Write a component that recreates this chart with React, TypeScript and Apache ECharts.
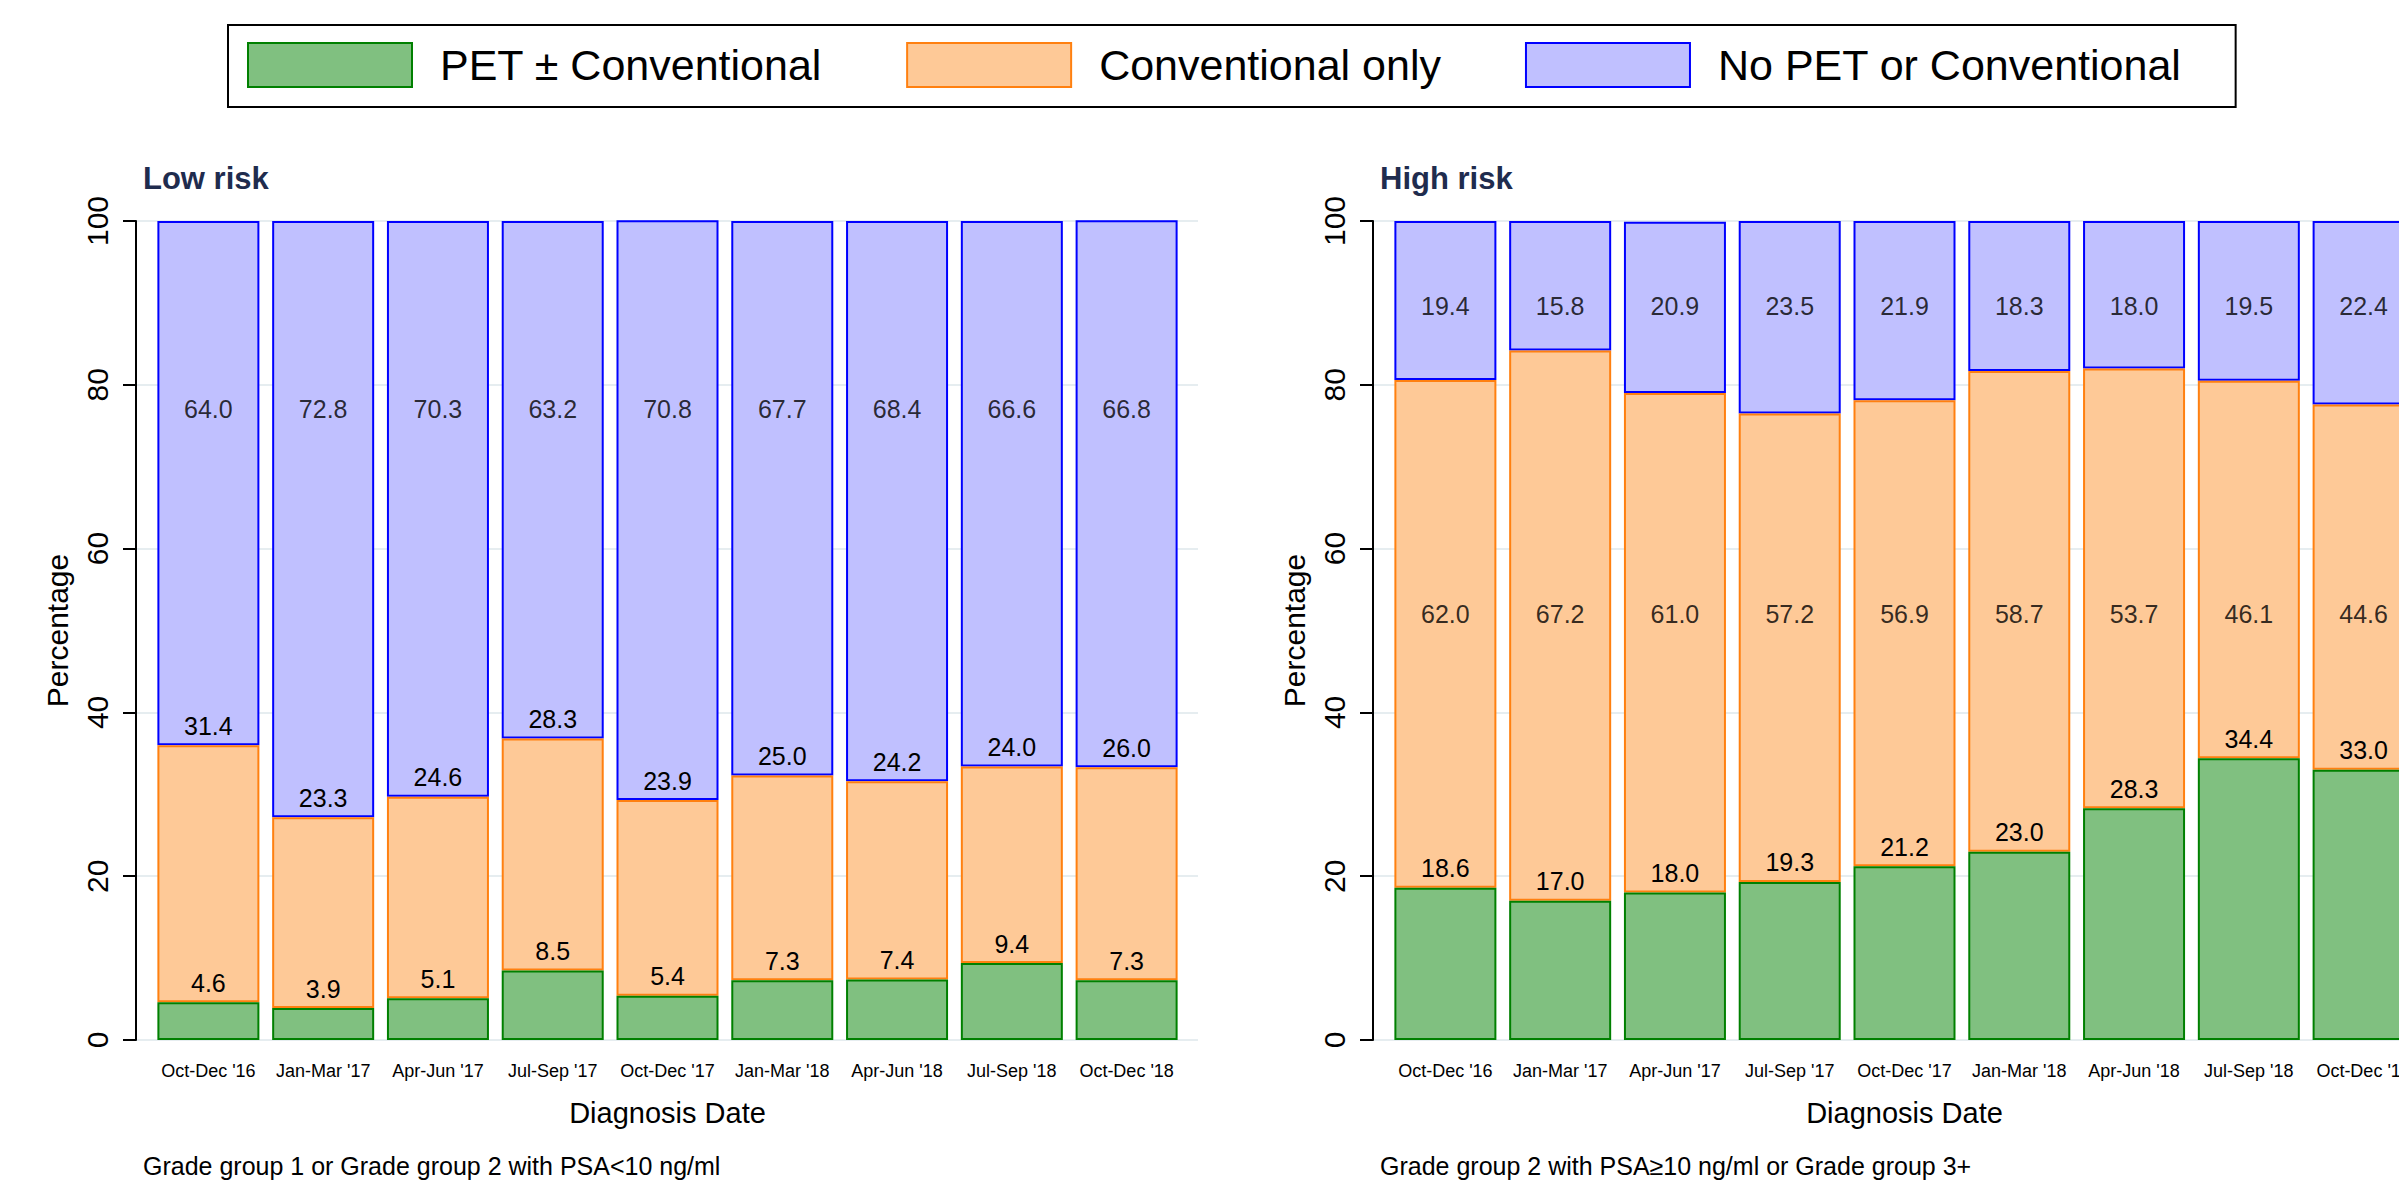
import React, { useEffect, useRef } from "react";
import * as echarts from "echarts";

const CATEGORIES = [
  "Oct-Dec '16", "Jan-Mar '17", "Apr-Jun '17", "Jul-Sep '17", "Oct-Dec '17",
  "Jan-Mar '18", "Apr-Jun '18", "Jul-Sep '18", "Oct-Dec '18",
];
const SERIES_NAMES = ["PET ± Conventional", "Conventional only", "No PET or Conventional"];

const LOW_PET = [4.6, 3.9, 5.1, 8.5, 5.4, 7.3, 7.4, 9.4, 7.3];
const LOW_CONV = [31.4, 23.3, 24.6, 28.3, 23.9, 25.0, 24.2, 24.0, 26.0];
const LOW_NONE = [64.0, 72.8, 70.3, 63.2, 70.8, 67.7, 68.4, 66.6, 66.8];

const HIGH_PET = [18.6, 17.0, 18.0, 19.3, 21.2, 23.0, 28.3, 34.4, 33.0];
const HIGH_CONV = [62.0, 67.2, 61.0, 57.2, 56.9, 58.7, 53.7, 46.1, 44.6];
const HIGH_NONE = [19.4, 15.8, 20.9, 23.5, 21.9, 18.3, 18.0, 19.5, 22.4];

const Y_TICKS = [0, 20, 40, 60, 80, 100];

const PANEL_TITLES = ["Low risk", "High risk"];
const PANEL_NOTES = [
  "Grade group 1 or Grade group 2 with PSA<10 ng/ml",
  "Grade group 2 with PSA≥10 ng/ml or Grade group 3+",
];

// label anchor heights (value-axis units) for labels that sit at a fixed level
const LOW_NONE_LABEL_Y = 77;
const HIGH_CONV_LABEL_Y = 52;
const HIGH_NONE_LABEL_Y = 89.6;

const FONT = '"Liberation Sans", Arial, Helvetica, sans-serif';
const FILLS = ["#80c080", "#fec997", "#c0c0ff"];
const STROKES = ["#008000", "#ff8010", "#0000ff"];

export default function App() {
  const ref = useRef<HTMLDivElement>(null);

  useEffect(() => {
    if (!ref.current) return;
    const chart = echarts.init(ref.current, null, { renderer: "svg" });

    const PANEL_SHIFT = 1237;
    const AXIS_X = 136;
    const BAR_LEFT = 151;
    const BAR_W = 1033;
    const BG_W = 1062;
    const TOP = 221;
    const H = 819;

    const grids: any[] = [];
    const xAxes: any[] = [];
    const yAxes: any[] = [];
    const series: any[] = [];
    const graphics: any[] = [];

    const fmt = (v: number) => v.toFixed(1);

    const panels = [
      { pet: LOW_PET, conv: LOW_CONV, none: LOW_NONE, convFixed: null as number | null, noneFixed: LOW_NONE_LABEL_Y as number | null },
      { pet: HIGH_PET, conv: HIGH_CONV, none: HIGH_NONE, convFixed: HIGH_CONV_LABEL_Y as number | null, noneFixed: HIGH_NONE_LABEL_Y as number | null },
    ];

    panels.forEach((p, k) => {
      const dx = k * PANEL_SHIFT;
      const gBg = grids.length;
      grids.push({ left: AXIS_X + dx, top: TOP, width: BG_W, height: H, containLabel: false, outerBoundsMode: "none" });
      const gBar = grids.length;
      grids.push({ left: BAR_LEFT + dx, top: TOP, width: BAR_W, height: H, containLabel: false, outerBoundsMode: "none" });

      // background grid: y axis, ticks, gridlines
      xAxes.push({ gridIndex: gBg, type: "value", min: 0, max: 1, show: false });
      yAxes.push({
        gridIndex: gBg,
        type: "value",
        min: Y_TICKS[0],
        max: Y_TICKS[Y_TICKS.length - 1],
        interval: Y_TICKS[1] - Y_TICKS[0],
        name: "Percentage",
        nameLocation: "middle",
        nameGap: 64,
        nameRotate: 90,
        nameTextStyle: { fontFamily: FONT, fontSize: 30, color: "#000" },
        axisLine: { show: true, lineStyle: { color: "#000", width: 2 } },
        axisTick: { show: true, length: 13, lineStyle: { color: "#000", width: 2 } },
        axisLabel: { rotate: 90, margin: 24, fontFamily: FONT, fontSize: 30, color: "#000" },
        splitLine: { show: true, lineStyle: { color: "#e6edf0", width: 2 } },
      });

      const xi = xAxes.length;
      xAxes.push({
        gridIndex: gBar,
        type: "category",
        data: CATEGORIES,
        name: "Diagnosis Date",
        nameLocation: "middle",
        nameGap: 58,
        nameTextStyle: { fontFamily: FONT, fontSize: 29, color: "#000" },
        axisLine: { show: false },
        axisTick: { show: false },
        axisLabel: { interval: 0, margin: 22, fontFamily: FONT, fontSize: 18, color: "#000" },
        splitLine: { show: false },
      });
      const yi = yAxes.length;
      yAxes.push({
        gridIndex: gBar,
        type: "value",
        min: Y_TICKS[0],
        max: Y_TICKS[Y_TICKS.length - 1],
        show: false,
        splitLine: { show: false },
      });

      const stack = "stack" + k;
      const labelBase = { fontFamily: FONT, fontSize: 25, color: "#000" };
      const arrays = [p.pet, p.conv, p.none];
      const fixed = [null, p.convFixed, p.noneFixed];
      arrays.forEach((arr, s) => {
        series.push({
          type: "bar",
          name: SERIES_NAMES[s],
          stack,
          xAxisIndex: xi,
          yAxisIndex: yi,
          barWidth: 102,
          z: 4 - s,
          data: arr,
          itemStyle: { color: FILLS[s], borderColor: STROKES[s], borderWidth: 2 },
          label: fixed[s] === null
            ? { show: true, position: "top", distance: 7, formatter: (q: any) => fmt(Number(q.value)), ...labelBase }
            : { show: false },
          emphasis: { disabled: true },
        });
        if (fixed[s] !== null) {
          series.push({
            type: "scatter",
            xAxisIndex: xi,
            yAxisIndex: yi,
            symbolSize: 1,
            silent: true,
            z: 6,
            itemStyle: { color: "rgba(0,0,0,0)" },
            data: arr.map((v, i) => ({ value: [i, fixed[s]], label: { formatter: fmt(v) } })),
            label: { show: true, position: "inside", ...labelBase },
          });
        }
      });

      graphics.push({
        type: "text",
        x: 143 + dx,
        y: 178,
        style: {
          text: PANEL_TITLES[k],
          font: `bold 31px ${FONT}`,
          fill: "#1f2c4e",
          textVerticalAlign: "middle",
          verticalAlign: "middle",
        },
      });
      graphics.push({
        type: "text",
        x: 143 + dx,
        y: 1166,
        style: {
          text: PANEL_NOTES[k],
          font: `25px ${FONT}`,
          fill: "#000",
          textVerticalAlign: "middle",
          verticalAlign: "middle",
        },
      });
    });

    chart.setOption({
      animation: false,
      backgroundColor: "#fff",
      legend: {
        left: 228,
        top: 25,
        orient: "horizontal",
        selectedMode: false,
        padding: [17, 54, 19, 19],
        borderColor: "#000",
        borderWidth: 2,
        itemWidth: 164,
        itemHeight: 44,
        itemGap: 84,
        textStyle: { fontFamily: FONT, fontSize: 43, color: "#000", padding: [0, 0, 0, 23], lineHeight: 46 },
        data: SERIES_NAMES.map((n, s) => ({
          name: n,
          icon: "rect",
          itemStyle: { color: FILLS[s], borderColor: STROKES[s], borderWidth: 2 },
        })),
      },
      grid: grids,
      xAxis: xAxes,
      yAxis: yAxes,
      series,
      graphic: graphics,
    });

    return () => chart.dispose();
  }, []);

  return (
    <div
      ref={ref}
      style={{ position: "fixed", left: 0, top: 0, width: 2399, height: 1182, background: "#fff" }}
    />
  );
}
